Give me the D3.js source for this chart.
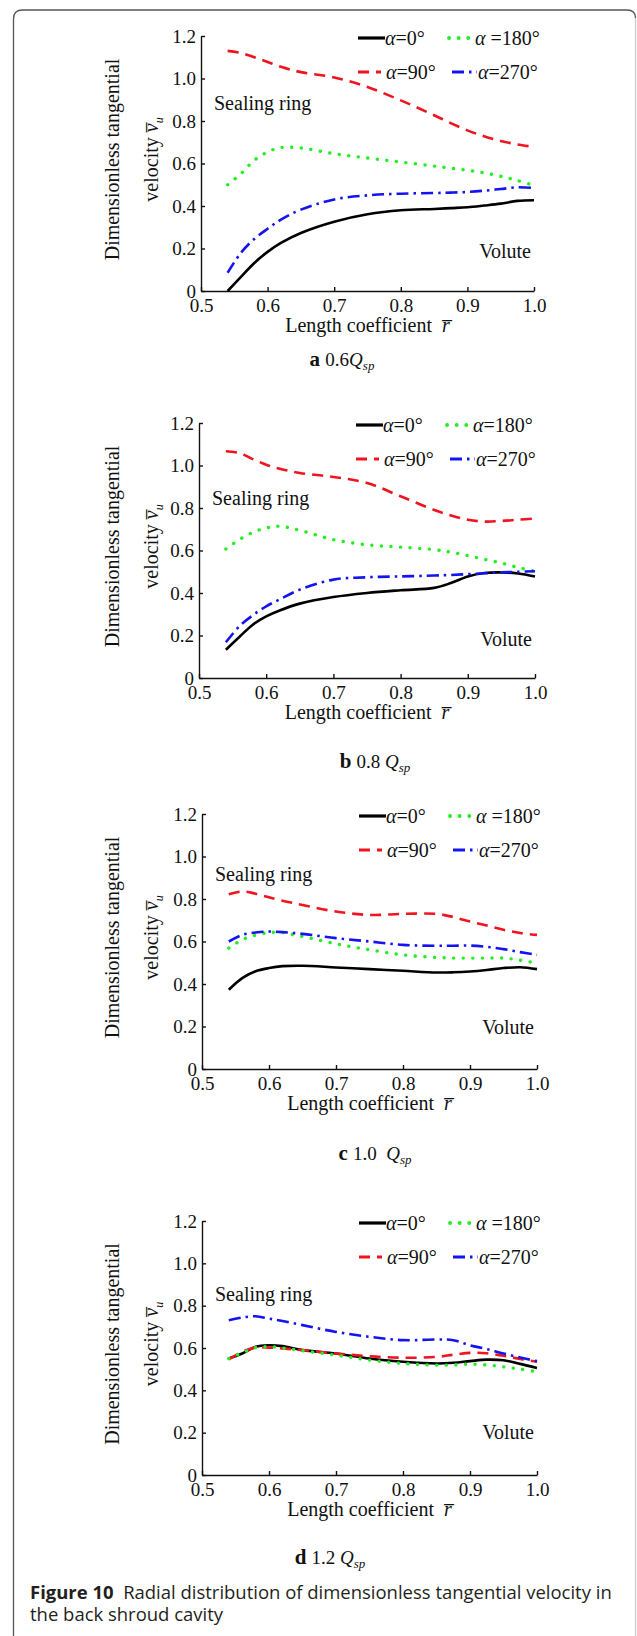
<!DOCTYPE html>
<html lang="en">
<head>
  <meta charset="UTF-8">
  <script src="https://d3js.org/d3.v7.min.js"></script>
  <title>Radial distribution of dimensionless tangential velocity</title>
  <style>
    body { margin: 0; background: #fff; }
    svg text { font-family: "Liberation Serif", "Times New Roman", serif; fill: #111; }
    .axis path, .axis line { stroke: #111; stroke-width: 1.4; }
    .axis text { font-size: 19px; font-family: "Liberation Serif", serif; fill: #111; }
    .curve { fill: none; }
    .caption text { font-family: "Open Sans", "Noto Sans", sans-serif; fill: #231f20; }
  </style>
</head>
<body>
  <svg></svg>
  <script>
    const WIDTH = 637
    const HEIGHT = 1636

    // data
    const r = [0.54, 0.56, 0.58, 0.60, 0.62, 0.65, 0.70, 0.75, 0.80, 0.85, 0.875, 0.90, 0.925, 0.95, 0.975, 1.0]
    const xTicks = [0.5, 0.6, 0.7, 0.8, 0.9, 1.0]
    const yTicks = [0, 0.2, 0.4, 0.6, 0.8, 1.0, 1.2]
    const angles = ['0', '90', '180', '270']

    const a0   = [0.00, 0.066, 0.132, 0.184, 0.226, 0.273, 0.326, 0.361, 0.380, 0.386, 0.390, 0.394, 0.402, 0.411, 0.424, 0.427]
    const a90  = [1.13, 1.12, 1.10, 1.078, 1.055, 1.03, 1.005, 0.96, 0.897, 0.827, 0.79, 0.756, 0.728, 0.706, 0.69, 0.678]
    const a180 = [0.50, 0.552, 0.615, 0.654, 0.675, 0.673, 0.646, 0.626, 0.607, 0.588, 0.578, 0.568, 0.556, 0.54, 0.52, 0.497]
    const a270 = [0.086, 0.18, 0.245, 0.293, 0.336, 0.383, 0.431, 0.45, 0.458, 0.461, 0.463, 0.466, 0.472, 0.48, 0.488, 0.485]

    const b0   = [0.133, 0.193, 0.251, 0.29, 0.318, 0.35, 0.381, 0.40, 0.413, 0.424, 0.447, 0.478, 0.494, 0.497, 0.492, 0.478]
    const b90  = [1.067, 1.059, 1.03, 1.004, 0.985, 0.965, 0.946, 0.918, 0.855, 0.791, 0.765, 0.745, 0.736, 0.739, 0.745, 0.75]
    const b180 = [0.607, 0.651, 0.685, 0.706, 0.714, 0.695, 0.651, 0.627, 0.616, 0.604, 0.592, 0.576, 0.558, 0.541, 0.52, 0.502]
    const b270 = [0.168, 0.243, 0.295, 0.337, 0.37, 0.416, 0.463, 0.474, 0.478, 0.482, 0.485, 0.489, 0.493, 0.497, 0.50, 0.502]

    const c0   = [0.373, 0.428, 0.46, 0.475, 0.484, 0.486, 0.478, 0.47, 0.462, 0.454, 0.455, 0.459, 0.466, 0.475, 0.479, 0.47]
    const c90  = [0.822, 0.835, 0.825, 0.808, 0.792, 0.772, 0.741, 0.725, 0.73, 0.73, 0.715, 0.694, 0.675, 0.655, 0.64, 0.631]
    const c180 = [0.569, 0.608, 0.63, 0.642, 0.642, 0.624, 0.589, 0.561, 0.537, 0.525, 0.522, 0.522, 0.522, 0.522, 0.512, 0.498]
    const c270 = [0.60, 0.631, 0.642, 0.647, 0.644, 0.636, 0.616, 0.60, 0.584, 0.58, 0.58, 0.581, 0.575, 0.564, 0.55, 0.537]

    const d0   = [0.55, 0.574, 0.606, 0.613, 0.609, 0.59, 0.574, 0.55, 0.535, 0.527, 0.53, 0.538, 0.545, 0.542, 0.525, 0.506]
    const d90  = [0.546, 0.582, 0.602, 0.602, 0.598, 0.59, 0.574, 0.561, 0.554, 0.558, 0.568, 0.577, 0.575, 0.563, 0.548, 0.535]
    const d180 = [0.55, 0.577, 0.602, 0.606, 0.60, 0.587, 0.566, 0.543, 0.527, 0.519, 0.52, 0.524, 0.52, 0.511, 0.50, 0.488]
    const d270 = [0.731, 0.744, 0.75, 0.739, 0.728, 0.708, 0.676, 0.653, 0.637, 0.64, 0.637, 0.613, 0.595, 0.574, 0.555, 0.538]

    const panelLetters = ['a', 'b', 'c', 'd']
    const flowRates = ['0.6', '0.8\u00a0', '1.0\u00a0\u00a0', '1.2\u00a0']
    const panelSeries = [
      [a0, a90, a180, a270],
      [b0, b90, b180, b270],
      [c0, c90, c180, c270],
      [d0, d90, d180, d270]
    ]

    // layout
    const panels = [
      { left: 201, right: 534, top: 36,   bottom: 291,  cap: 366,  capX: 342 },
      { left: 199, right: 535, top: 423,  bottom: 678,  cap: 768,  capX: 375 },
      { left: 202, right: 537, top: 814,  bottom: 1069, cap: 1160, capX: 375 },
      { left: 202, right: 537, top: 1221, bottom: 1475, cap: 1564, capX: 330 }
    ]
    const sealY = [0.85, 0.815, 0.887, 0.82]
    const voluteY = [0.154, 0.149, 0.166, 0.17]

    const styles = {
      '0':   { color: '#000', width: 2.6, dash: null, cap: 'butt' },
      '90':  { color: '#f0141e', width: 2.6, dash: '11,7', cap: 'butt' },
      '180': { color: '#22ee22', width: 3.4, dash: '0.1,9.5', cap: 'round' },
      '270': { color: '#1414f0', width: 2.6, dash: '12,5,2.5,5', cap: 'butt' }
    }

    const svg = d3.select('svg')
      .attr('width', WIDTH)
      .attr('height', HEIGHT)

    svg.append('rect').attr('width', WIDTH).attr('height', HEIGHT).attr('fill', '#fff')

    // outer frame (open at the bottom)
    svg.append('path')
      .attr('d', 'M13.5,' + HEIGHT + ' V19 Q13.5,10 22.5,10 H627 Q635.5,10 635.5,18')
      .attr('fill', 'none').attr('stroke', '#555').attr('stroke-width', 1.3)
    svg.append('line')
      .attr('x1', 635.5).attr('x2', 635.5).attr('y1', 18).attr('y2', HEIGHT)
      .attr('stroke', '#c8c8c8').attr('stroke-width', 1.2)

    panels.forEach((p, i) => {
      const x = d3.scaleLinear().domain([0.5, 1.0]).range([p.left, p.right])
      const y = d3.scaleLinear().domain([0, 1.2]).range([p.bottom, p.top])
      const g = svg.append('g')

      g.append('g')
        .attr('class', 'axis')
        .attr('transform', 'translate(0,' + p.bottom + ')')
        .call(d3.axisBottom(x).tickValues(xTicks).tickFormat(d3.format('.1f'))
          .tickSizeInner(-4).tickSizeOuter(0).tickPadding(7.5))

      g.append('g')
        .attr('class', 'axis')
        .attr('transform', 'translate(' + p.left + ',0)')
        .call(d3.axisLeft(y).tickValues(yTicks).tickFormat(d => d === 0 ? '0' : d3.format('.1f')(d))
          .tickSizeInner(-4).tickSizeOuter(0).tickPadding(5))

      g.selectAll('.domain').attr('stroke-width', 1.6)

      // axis titles
      const xt = g.append('text')
        .attr('x', (p.left + p.right) / 2)
        .attr('y', p.bottom + 41)
        .attr('text-anchor', 'middle')
        .attr('font-size', 20)
      xt.append('tspan').text('Length coefficient\u00a0\u00a0')
      xt.append('tspan').attr('font-style', 'italic').text('r\u0305')

      const cy = (p.top + p.bottom) / 2 - 4
      g.append('text')
        .attr('transform', 'translate(119,' + cy + ') rotate(-90)')
        .attr('text-anchor', 'middle')
        .attr('font-size', 20)
        .text('Dimensionless tangential')
      const vt = g.append('text')
        .attr('transform', 'translate(158,' + cy + ') rotate(-90)')
        .attr('text-anchor', 'middle')
        .attr('font-size', 20)
      vt.append('tspan').text('velocity\u00a0')
      vt.append('tspan').attr('font-style', 'italic').text('v\u0305')
      vt.append('tspan').attr('font-style', 'italic').attr('font-size', 12).attr('dy', 5).text('u')

      // curves
      const line = d3.line()
        .x((d, k) => x(r[k]))
        .y(d => y(d))
        .curve(d3.curveCatmullRom.alpha(0.5))

      panelSeries[i].forEach((vals, k) => {
        const s = styles[angles[k]]
        g.append('path')
          .attr('class', 'curve')
          .attr('d', line(vals))
          .attr('stroke', s.color)
          .attr('stroke-width', s.width)
          .attr('stroke-dasharray', s.dash)
          .attr('stroke-linecap', s.cap)
      })

      // legend
      const legendItems = [
        { a: '0',   x1: 157, x2: 184, tx: 184, row: 0, label: '=0°' },
        { a: '180', x1: 248, x2: 268, tx: 274, row: 0, label: (i === 1 ? '=180°' : '\u00a0=180°') },
        { a: '90',  x1: 157, x2: 180, tx: 185, row: 1, label: '=90°' },
        { a: '270', x1: 251, x2: 276, tx: 277, row: 1, label: '=270°' }
      ]
      legendItems.forEach(it => {
        const s = styles[it.a]
        const ly = p.top + 2 + it.row * 34
        g.append('line')
          .attr('x1', p.left + it.x1).attr('x2', p.left + it.x2)
          .attr('y1', ly).attr('y2', ly)
          .attr('stroke', s.color)
          .attr('stroke-width', it.a === '0' ? 3.2 : s.width + 0.4)
          .attr('stroke-dasharray', s.dash)
          .attr('stroke-linecap', s.cap)
        const t = g.append('text')
          .attr('x', p.left + it.tx)
          .attr('y', ly + 7)
          .attr('font-size', 20)
        t.append('tspan').attr('font-style', 'italic').text('α')
        t.append('tspan').text(it.label)
      })

      // region labels
      g.append('text')
        .attr('x', p.left + 13)
        .attr('y', y(sealY[i]))
        .attr('font-size', 20)
        .text('Sealing ring')
      g.append('text')
        .attr('x', p.right - 3)
        .attr('y', y(voluteY[i]))
        .attr('text-anchor', 'end')
        .attr('font-size', 20)
        .text('Volute')

      // sub caption
      const ct = g.append('text')
        .attr('x', p.capX)
        .attr('y', p.cap)
        .attr('text-anchor', 'middle')
        .attr('font-size', 19)
      ct.append('tspan').attr('font-weight', 'bold').attr('font-size', 21).text(panelLetters[i] + '\u00a0')
      ct.append('tspan').text(flowRates[i])
      ct.append('tspan').attr('font-style', 'italic').text('Q')
      ct.append('tspan').attr('font-style', 'italic').attr('font-size', 13).attr('dy', 4).text('sp')
    })

    // figure caption
    const cap = svg.append('g').attr('class', 'caption')
    const line1 = cap.append('text').attr('x', 30).attr('y', 1599).attr('font-size', 16)
    line1.append('tspan').attr('font-weight', 'bold').text('Figure 10')
    line1.append('tspan').text('\u00a0\u00a0Radial distribution of dimensionless tangential velocity in')
    const line2 = cap.append('text').attr('x', 30).attr('y', 1621).attr('font-size', 16)
      .text('the back shroud cavity')
    // fit the font size to the width of the caption block
    const w = line1.node().getComputedTextLength()
    const fs = 16 * 582 / w
    line1.attr('font-size', fs)
    line2.attr('font-size', fs)
  </script>
</body>
</html>
